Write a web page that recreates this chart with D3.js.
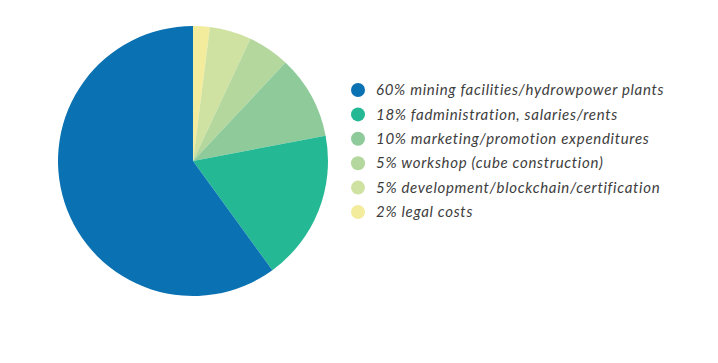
<!DOCTYPE html>
<html>
<head>
<meta charset="utf-8">
<script src="https://cdn.jsdelivr.net/npm/d3@7"></script>
<style>
  body { margin: 0; background: #fff; }
  svg { display: block; }
</style>
</head>
<body>
<svg id="chart"></svg>
<script>
var labels = ["60% mining facilities/hydrowpower plants", "18% fadministration, salaries/rents",
              "10% marketing/promotion expenditures", "5% workshop (cube construction)",
              "5% development/blockchain/certification", "2% legal costs"];
var values = [60, 18, 10, 5, 5, 2];
var colors = ["#0a71b2", "#25b894", "#8fcb9a", "#b3d79d", "#d0e2a2", "#f3ec9c"];

var width = 718, height = 363;
var svg = d3.select("#chart").attr("width", width).attr("height", height);

var cx = 193, cy = 161, radius = 135;

// slices go clockwise from 12 o'clock, smallest first, so reverse the order
var pie = d3.pie().sort(null).value(function(d) { return d.value; });
var data = labels.map(function(l, i) { return {label: l, value: values[i], color: colors[i]}; }).reverse();
var arc = d3.arc().innerRadius(0).outerRadius(radius);

var g = svg.append("g").attr("transform", "translate(" + cx + "," + cy + ")");
g.selectAll("path")
  .data(pie(data))
  .enter().append("path")
  .attr("d", arc)
  .attr("fill", function(d) { return d.data.color; });

// legend
var y = d3.scalePoint().domain(labels).range([90, 212]);
var legend = svg.append("g");
var rows = legend.selectAll("g").data(labels).enter().append("g")
  .attr("transform", function(d) { return "translate(358," + y(d) + ")"; });

rows.append("circle").attr("r", 7).attr("fill", function(d, i) { return colors[i]; });
rows.append("text")
  .attr("x", 18)
  .attr("dy", "0.35em")
  .attr("font-family", "Lato, sans-serif")
  .attr("font-style", "italic")
  .attr("font-size", "15px")
  .attr("letter-spacing", "0.7px")
  .attr("fill", "#3d3d3d")
  .text(function(d) { return d; });
</script>
</body>
</html>
